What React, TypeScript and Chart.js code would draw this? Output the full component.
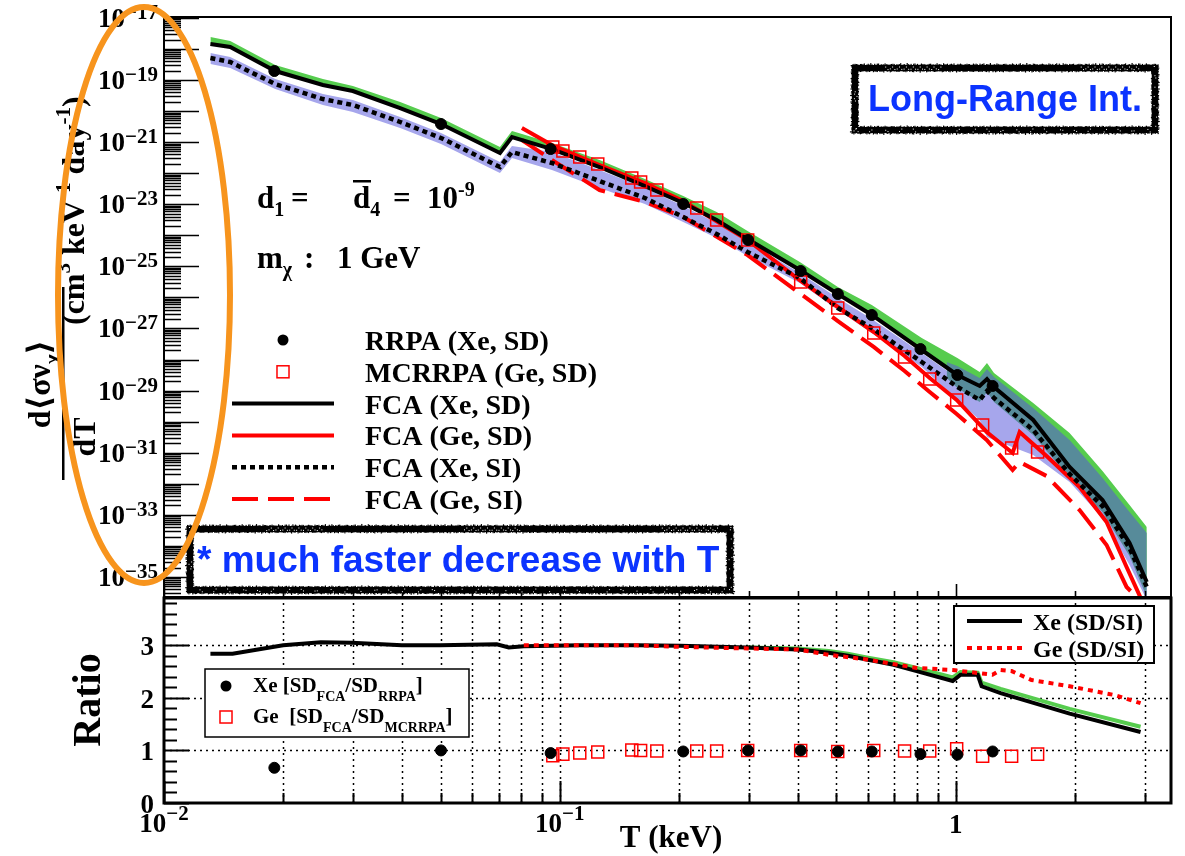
import React, { useEffect, useRef } from "react";
import { Chart, registerables } from "chart.js";

Chart.register(...registerables);

const W = 1185;
const H = 856;

// ---------------- top panel data ----------------
const xeT = [0.0131, 0.0147, 0.0191, 0.0252, 0.03, 0.0395, 0.0501, 0.0706, 0.0757, 0.0955, 0.126, 0.164, 0.205, 0.249, 0.298, 0.404, 0.504, 0.614, 0.821, 1.01, 1.15, 1.2, 1.25, 1.57, 1.94, 2.35, 2.75, 3.04];
const xeSD = [1.44e-18, 1.155e-18, 1.95e-19, 6.9e-20, 4.43e-20, 1.254e-20, 3.83e-21, 4.47e-22, 1.46e-21, 6.0e-22, 1.58e-22, 3.86e-23, 1.1e-23, 3.11e-24, 7.6e-25, 7.64e-26, 1.29e-26, 2.72e-27, 2.03e-28, 3.18e-29, 1.41e-29, 2.36e-29, 1.31e-29, 1.13e-30, 3.47e-32, 3.01e-33, 1.24e-34, 6.89e-36];
const xeSI = [5.1e-19, 3.8e-19, 7.43e-20, 2.44e-20, 1.57e-20, 4.45e-21, 1.36e-21, 1.58e-22, 4.81e-22, 2.13e-22, 5.6e-23, 1.59e-23, 3.88e-24, 1.1e-24, 2.9e-25, 4.22e-26, 4.56e-27, 1.035e-27, 8.34e-29, 1.31e-29, 4.98e-30, 9.7e-30, 5.78e-30, 5.4e-31, 2.07e-32, 1.92e-33, 8.55e-35, 4.75e-36];
const greenTop = [2.42e-18, 1.8e-18, 3.04e-19, 1.077e-19, 6.41e-20, 1.96e-20, 5.98e-21, 6.97e-22, 2.28e-21, 9.37e-22, 2.65e-22, 6.5e-23, 1.84e-23, 5.62e-24, 1.375e-24, 1.38e-25, 2.16e-26, 5.7e-27, 4.93e-28, 1.12e-28, 3.97e-29, 7.74e-29, 3.69e-29, 3.99e-30, 4.32e-31, 2.58e-32, 2.07e-33, 4.06e-34];
const lavTop = [7.39e-19, 5.5e-19, 1.077e-19, 3.54e-20, 2.27e-20, 6.44e-21, 1.97e-21, 2.29e-22, 7.5e-22, 4.81e-22, 1.265e-22, 3.33e-23, 8.77e-24, 2.49e-24, 6.08e-25, 6.11e-26, 9.57e-27, 2.02e-27, 1.63e-28, 2.55e-29, 1.045e-29, 1.76e-29, 1.045e-29, 9.06e-31, 2.78e-32, 2.4e-33, 9.93e-35, 5.51e-36];
const lavBottom = [3.27e-19, 2.43e-19, 5.13e-20, 1.57e-20, 9.33e-21, 2.85e-21, 8.7e-22, 1.014e-22, 3.08e-22, 1.265e-22, 3.33e-23, 1.02e-23, 2.68e-24, 8.18e-25, 2.16e-25, 2.91e-26, 3.94e-27, 7.15e-28, 5.75e-29, 4.98e-30, 1.13e-30, 3.21e-31, 2.57e-31, 8.45e-32, 1.14e-32, 7.91e-34, 2.43e-35, 1.81e-36];
const tealT = [0.949, 1.01, 1.15, 1.2, 1.25, 1.57, 1.94, 2.35, 2.75, 3.04];
const tealTop = [8.34e-29, 6.19e-29, 2.55e-29, 4.97e-29, 2.74e-29, 2.75e-30, 2.57e-31, 1.53e-32, 1.23e-33, 2.6e-34];
const tealBottom = [2.55e-29, 1.21e-29, 4.3e-30, 9.02e-30, 4.3e-30, 3.72e-31, 1.53e-32, 1.23e-33, 4.73e-35, 2.26e-36];

const geT = [0.0802, 0.0955, 0.126, 0.164, 0.205, 0.298, 0.406, 0.504, 0.621, 0.743, 0.86, 1.006, 1.198, 1.393, 1.451, 1.697, 2.056, 2.406, 2.703, 2.95];
const geSD = [2.85e-21, 8.08e-22, 1.83e-22, 4.83e-23, 1.27e-23, 7.06e-25, 3.38e-26, 4.92e-27, 7.71e-28, 1.3e-28, 2.55e-29, 4.98e-30, 4.65e-31, 9.79e-32, 4.65e-31, 7.84e-32, 7.87e-33, 5.87e-34, 2.09e-35, 1.81e-36];
const geSIT = [0.0802, 0.0955, 0.126, 0.164, 0.205, 0.298, 0.406, 0.504, 0.621, 0.743, 0.86, 1.006, 1.198, 1.393, 1.451, 1.697, 2.056, 2.406, 2.703, 3.0];
const geSI = [1.17e-21, 2.65e-22, 2.87e-23, 1.18e-23, 3.88e-24, 2.32e-25, 1.29e-26, 1.74e-27, 2.54e-28, 4.28e-29, 9.02e-30, 1.77e-30, 2.57e-31, 2.78e-32, 5.02e-32, 1.78e-32, 1.43e-33, 1.07e-34, 4.75e-36, 1.25e-36];

const rrpaT = [0.019, 0.0501, 0.0948, 0.205, 0.299, 0.406, 0.504, 0.614, 0.815, 1.01, 1.24];
const rrpaV = [1.95e-19, 3.83e-21, 6.0e-22, 1.02e-23, 7.06e-25, 7.1e-26, 1.29e-26, 2.72e-27, 2.18e-28, 3.18e-29, 1.41e-29];
const mcrrpaT = [0.096, 0.1018, 0.1123, 0.1247, 0.152, 0.16, 0.1758, 0.2218, 0.249, 0.2983, 0.406, 0.5036, 0.621, 0.743, 0.86, 1.006, 1.17, 1.385, 1.611];
const mcrrpaV = [6.97e-22, 5.18e-22, 3.32e-22, 1.98e-22, 7.0e-23, 5.2e-23, 2.87e-23, 7.57e-24, 3.11e-24, 7.06e-25, 3.13e-26, 4.56e-27, 7.15e-28, 1.21e-28, 2.36e-29, 4.98e-30, 7.8e-31, 1.42e-31, 1.05e-31];

// ---------------- ratio panel data ----------------
const ratioXeT = [0.0131, 0.0149, 0.02, 0.0249, 0.0298, 0.0399, 0.0498, 0.0693, 0.0743, 0.0811, 0.1123, 0.1564, 0.201, 0.298, 0.399, 0.478, 0.534, 0.596, 0.697, 0.797, 0.983, 1.029, 1.137, 1.163, 1.299, 1.941, 2.932];
const ratioXe = [2.84, 2.84, 3.0, 3.06, 3.05, 3.0, 3.0, 3.02, 2.96, 2.98, 3.0, 3.0, 2.99, 2.96, 2.92, 2.86, 2.8, 2.73, 2.63, 2.51, 2.32, 2.44, 2.44, 2.22, 2.09, 1.7, 1.35];
const ratioXeGreenT = [0.298, 0.399, 0.478, 0.534, 0.596, 0.697, 0.797, 0.983, 1.029, 1.137, 1.163, 1.299, 1.941, 2.932];
const ratioXeGreen = [2.96, 2.94, 2.89, 2.84, 2.77, 2.68, 2.57, 2.39, 2.49, 2.48, 2.29, 2.17, 1.79, 1.45];
const ratioGeT = [0.0811, 0.1123, 0.1564, 0.201, 0.298, 0.399, 0.478, 0.596, 0.797, 0.983, 1.239, 1.299, 1.385, 1.555, 1.941, 2.535, 2.932];
const ratioGe = [3.0, 3.0, 3.0, 2.97, 2.94, 2.92, 2.82, 2.73, 2.57, 2.53, 2.44, 2.53, 2.51, 2.34, 2.22, 2.05, 1.9];
const xeDotRatio = [0.67, 1.0, 0.95, 0.98, 1.0, 1.0, 0.98, 0.98, 0.93, 0.92, 0.98];
const geSqRatio = [0.9, 0.93, 0.95, 0.97, 1.01, 1.0, 0.99, 0.99, 0.99, 1.0, 1.0, 0.98, 1.0, 0.99, 0.99, 1.03, 0.89, 0.89, 0.93];

// ---------------- axes / labels ----------------
const X_MIN = 0.01;
const X_MAX = 3.5;
const Y_MIN = 2.26e-36;
const Y_MAX = 1.07e-17;
const R_MIN = 0;
const R_MAX = 3.9;
const yLabelExps = [-17, -19, -21, -23, -25, -27, -29, -31, -33, -35];
const xLabelExps = [-2, -1, 0];
const ratioLabels = [0, 1, 2, 3];
const ratioGridY = [1, 2, 3];
const topLegendLabels = ["RRPA (Xe, SD)", "MCRRPA (Ge, SD)", "FCA (Xe, SD)", "FCA (Ge, SD)", "FCA (Xe, SI)", "FCA (Ge, SI)"];
const ratioLegendLabels = ["Xe (SD/SI)", "Ge (SD/SI)"];

// ---------------- styles ----------------
const SERIF = "'Liberation Serif','Times New Roman','DejaVu Serif','DejaVu Sans',serif";
const SANS = "'Liberation Sans',Arial,'DejaVu Sans',sans-serif";
const RED = "#ff0000";
const BLUE_TXT = "#0b33ff";
const GREEN = "#56cc4e";
const LAV = "#a6a6ec";
const TEAL = "#578b9a";
const ORANGE = "#f7941d";

const pts = (xs: number[], ys: number[]) => xs.map((x, i) => ({ x, y: ys[i] }));

type Run = { t: string; size: number; dy?: number; font?: string; italic?: boolean; color?: string };
const fontOf = (r: Run) => `${r.italic ? "italic " : ""}bold ${r.size}px ${r.font || SERIF}`;
function runsWidth(ctx: CanvasRenderingContext2D, runs: Run[]) {
  let w = 0;
  for (const r of runs) {
    ctx.font = fontOf(r);
    w += ctx.measureText(r.t).width;
  }
  return w;
}
function drawRuns(ctx: CanvasRenderingContext2D, runs: Run[], x: number, y: number, align: string = "left") {
  const w = runsWidth(ctx, runs);
  let cx = align === "left" ? x : align === "center" ? x - w / 2 : x - w;
  ctx.textAlign = "left";
  ctx.textBaseline = "alphabetic";
  for (const r of runs) {
    ctx.font = fontOf(r);
    if (r.color) ctx.fillStyle = r.color;
    ctx.fillText(r.t, cx, y + (r.dy || 0));
    cx += ctx.measureText(r.t).width;
  }
  return w;
}

function roughBox(ctx: CanvasRenderingContext2D, x0: number, y0: number, x1: number, y1: number, t: number) {
  ctx.save();
  ctx.fillStyle = "#fff";
  ctx.fillRect(x0, y0, x1 - x0, y1 - y0);
  ctx.fillStyle = "#000";
  ctx.fillRect(x0, y0, x1 - x0, t);
  ctx.fillRect(x0, y1 - t, x1 - x0, t);
  ctx.fillRect(x0, y0, t, y1 - y0);
  ctx.fillRect(x1 - t, y0, t, y1 - y0);
  const jag = (s: number) => 0.8 + 0.9 * Math.sin(s * 1.37) * Math.cos(s * 0.53) + 0.4 * Math.sin(s * 3.1);
  for (let x = x0; x < x1; x += 1.3) {
    const a = Math.max(0, jag(x));
    const b = Math.max(0, jag(x + 17.3));
    ctx.fillRect(x, y0 - a, 1.2, a);
    ctx.fillRect(x, y0 + t, 1.2, b * 0.8);
    ctx.fillRect(x, y1, 1.2, b);
    ctx.fillRect(x, y1 - t - a * 0.8, 1.2, a * 0.8);
  }
  for (let y = y0; y < y1; y += 1.3) {
    const a = Math.max(0, jag(y + 5.1));
    const b = Math.max(0, jag(y + 31.7));
    ctx.fillRect(x0 - a, y, a, 1.2);
    ctx.fillRect(x0 + t, y, b * 0.8, 1.2);
    ctx.fillRect(x1, y, b, 1.2);
    ctx.fillRect(x1 - t - a * 0.8, y, a * 0.8, 1.2);
  }
  ctx.fillStyle = "#fff";
  for (let x = x0 + 1; x < x1 - 1; x += 2.3) {
    if (Math.sin(x * 2.7) > 0.6) ctx.fillRect(x, y0 + t * 0.5 + Math.sin(x * 0.9) * 1.5, 1, 1);
    if (Math.cos(x * 2.3) > 0.6) ctx.fillRect(x, y1 - t * 0.5 + Math.sin(x * 1.1) * 1.5, 1, 1);
  }
  for (let y = y0 + 1; y < y1 - 1; y += 2.3) {
    if (Math.sin(y * 2.9) > 0.6) ctx.fillRect(x0 + t * 0.5 + Math.sin(y) * 1.5, y, 1, 1);
    if (Math.cos(y * 2.1) > 0.6) ctx.fillRect(x1 - t * 0.5 + Math.sin(y * 1.3) * 1.5, y, 1, 1);
  }
  ctx.restore();
}

function logTicks(min: number, max: number) {
  const out: { v: number; major: boolean }[] = [];
  const n0 = Math.floor(Math.log10(min)) - 1;
  const n1 = Math.ceil(Math.log10(max)) + 1;
  for (let n = n0; n <= n1; n++) {
    for (let k = 1; k <= 9; k++) {
      const v = k * Math.pow(10, n);
      if (v >= min * 0.9999 && v <= max * 1.0001) out.push({ v, major: k === 1 });
    }
  }
  return out;
}

function drawLegendSymbol(ctx: CanvasRenderingContext2D, ds: any, x0: number, x1: number, y: number) {
  ctx.save();
  if (ds.showLine === false) {
    const cx = (x0 + x1) / 2;
    if (ds.pointStyle === "rect") {
      const s = ds.pointRadius * Math.SQRT1_2;
      ctx.strokeStyle = ds.pointBorderColor;
      ctx.lineWidth = ds.pointBorderWidth;
      ctx.strokeRect(cx - s, y - s, 2 * s, 2 * s);
    } else {
      ctx.fillStyle = ds.pointBackgroundColor;
      ctx.beginPath();
      ctx.arc(cx, y, ds.pointRadius, 0, Math.PI * 2);
      ctx.fill();
    }
  } else {
    ctx.strokeStyle = ds.borderColor;
    ctx.lineWidth = ds.borderWidth;
    ctx.setLineDash(ds.borderDash || []);
    ctx.beginPath();
    ctx.moveTo(x0, y);
    ctx.lineTo(x1, y);
    ctx.stroke();
  }
  ctx.restore();
}

const topDeco = {
  id: "topDeco",
  afterDatasetsDraw(chart: any) {
    const ctx: CanvasRenderingContext2D = chart.ctx;
    const { left, right, top, bottom } = chart.chartArea;
    const xs = chart.scales.x;
    const ys = chart.scales.y;
    ctx.save();
    ctx.strokeStyle = "#000";
    ctx.lineWidth = 2;
    ctx.strokeRect(left, top, right - left, bottom - top);
    // y ticks (inside, left)
    ctx.lineWidth = 1.6;
    ctx.beginPath();
    for (const t of logTicks(Y_MIN, Y_MAX)) {
      const p = Math.round(ys.getPixelForValue(t.v)) + 0.5;
      ctx.moveTo(left, p);
      ctx.lineTo(left + (t.major ? 35 : 17), p);
    }
    ctx.stroke();
    // x ticks (inside, bottom)
    ctx.beginPath();
    for (const t of logTicks(X_MIN, X_MAX)) {
      const p = Math.round(xs.getPixelForValue(t.v)) + 0.5;
      ctx.moveTo(p, bottom);
      ctx.lineTo(p, bottom - (t.major ? 13 : 6));
    }
    ctx.stroke();
    // y labels
    ctx.fillStyle = "#000";
    for (const e of yLabelExps) {
      const p = ys.getPixelForValue(Math.pow(10, e));
      drawRuns(ctx, [{ t: "10", size: 27 }, { t: "\u2212" + Math.abs(e), size: 21, dy: -8 }], 158, p + 9, "right");
    }
    // y title (rotated)
    ctx.save();
    ctx.rotate(-Math.PI / 2);
    drawRuns(ctx, [{ t: "d\u27E8\u03C3\u03BD", size: 32 }, { t: "\u03C7", size: 21, dy: 9 }, { t: "\u27E9", size: 32 }], -384, 50, "center");
    ctx.fillRect(-480, 62, 193, 2.5);
    drawRuns(ctx, [{ t: "dT", size: 32 }], -437, 95, "center");
    drawRuns(ctx, [
      { t: "(cm", size: 32 }, { t: "3", size: 21, dy: -14 }, { t: " keV", size: 32 }, { t: "-1", size: 21, dy: -14 },
      { t: " day", size: 32 }, { t: "-1", size: 21, dy: -14 }, { t: ")", size: 32 },
    ], -325, 84, "left");
    ctx.restore();
    // parameter text
    ctx.fillStyle = "#000";
    drawRuns(ctx, [{ t: "d", size: 31 }, { t: "1", size: 20, dy: 8 }], 257, 208);
    drawRuns(ctx, [{ t: "=", size: 31 }], 291, 208);
    drawRuns(ctx, [{ t: "d", size: 31 }, { t: "4", size: 20, dy: 8 }], 353, 208);
    drawRuns(ctx, [{ t: "=", size: 31 }], 393, 208);
    ctx.fillRect(353, 180, 18, 2.5);
    drawRuns(ctx, [{ t: "10", size: 31 }, { t: "-9", size: 20, dy: -12 }], 427, 208);
    drawRuns(ctx, [{ t: "m", size: 31 }, { t: "\u03C7", size: 20, dy: 8 }], 257, 268);
    drawRuns(ctx, [{ t: ":", size: 31 }], 304, 268);
    drawRuns(ctx, [{ t: "1 GeV", size: 31 }], 337, 268);
    // main legend
    const dsets = chart.data.datasets;
    for (let i = 0; i < 6; i++) {
      const y = 340 + i * 31.8;
      drawLegendSymbol(ctx, dsets[i], 232, 334, y);
      ctx.fillStyle = "#000";
      drawRuns(ctx, [{ t: dsets[i].label, size: 28 }], 365, y + 10);
    }
    // boxes
    roughBox(ctx, 852, 65, 1158, 133, 6);
    ctx.fillStyle = BLUE_TXT;
    drawRuns(ctx, [{ t: "Long-Range Int.", size: 36, font: SANS }], 1005, 111, "center");
    roughBox(ctx, 187, 526, 733, 593, 6);
    ctx.fillStyle = BLUE_TXT;
    drawRuns(ctx, [{ t: "* much faster decrease with T", size: 37, font: SANS }], 197, 572);
    // orange ellipse annotation
    ctx.strokeStyle = ORANGE;
    ctx.lineWidth = 6;
    ctx.beginPath();
    ctx.ellipse(144, 295, 86, 288, 0, 0, Math.PI * 2);
    ctx.stroke();
    ctx.restore();
  },
};

const botGrid = {
  id: "botGrid",
  beforeDatasetsDraw(chart: any) {
    const ctx: CanvasRenderingContext2D = chart.ctx;
    const { left, right, top, bottom } = chart.chartArea;
    const xs = chart.scales.x;
    const ys = chart.scales.y;
    ctx.save();
    ctx.strokeStyle = "#000";
    ctx.lineWidth = 1.5;
    ctx.setLineDash([2, 4]);
    ctx.beginPath();
    for (const t of logTicks(X_MIN, X_MAX)) {
      const p = Math.round(xs.getPixelForValue(t.v)) + 0.5;
      if (p <= left + 1 || p >= right - 1) continue;
      ctx.moveTo(p, bottom);
      ctx.lineTo(p, top);
    }
    for (const g of ratioGridY) {
      const p = Math.round(ys.getPixelForValue(g)) + 0.5;
      ctx.moveTo(left, p);
      ctx.lineTo(right, p);
    }
    ctx.stroke();
    ctx.restore();
  },
  afterDatasetsDraw(chart: any) {
    const ctx: CanvasRenderingContext2D = chart.ctx;
    const { left, right, top, bottom } = chart.chartArea;
    const xs = chart.scales.x;
    const ys = chart.scales.y;
    ctx.save();
    ctx.strokeStyle = "#000";
    ctx.lineWidth = 3;
    ctx.strokeRect(left, top, right - left, bottom - top);
    ctx.lineWidth = 2;
    ctx.beginPath();
    for (let v = 0; v <= R_MAX + 1e-9; v += 0.2) {
      const p = Math.round(ys.getPixelForValue(v)) + 0.5;
      const major = Math.abs(v - Math.round(v)) < 1e-6;
      ctx.moveTo(left, p);
      ctx.lineTo(left + (major ? 25 : 13), p);
    }
    for (const t of logTicks(X_MIN, X_MAX)) {
      const p = Math.round(xs.getPixelForValue(t.v)) + 0.5;
      ctx.moveTo(p, bottom);
      ctx.lineTo(p, bottom - (t.major ? 22 : 10));
    }
    ctx.stroke();
    // tick labels
    ctx.fillStyle = "#000";
    for (const r of ratioLabels) {
      const p = ys.getPixelForValue(r);
      drawRuns(ctx, [{ t: String(r), size: 27 }], 154, p + 10, "right");
    }
    for (const e of xLabelExps) {
      const p = xs.getPixelForValue(Math.pow(10, e));
      if (e === 0) drawRuns(ctx, [{ t: "1", size: 27 }], p, 833, "center");
      else drawRuns(ctx, [{ t: "10", size: 27 }, { t: "\u2212" + Math.abs(e), size: 21, dy: -12 }], p, 832, "center");
    }
    drawRuns(ctx, [{ t: "T (keV)", size: 31 }], 671, 847, "center");
    ctx.save();
    ctx.rotate(-Math.PI / 2);
    drawRuns(ctx, [{ t: "Ratio", size: 40 }], -700, 100, "center");
    ctx.restore();
    // legend 1 (bottom-left)
    const dsets = chart.data.datasets;
    ctx.fillStyle = "#fff";
    ctx.fillRect(205, 669, 264, 68);
    ctx.strokeStyle = "#000";
    ctx.lineWidth = 1.5;
    ctx.strokeRect(205, 669, 264, 68);
    drawLegendSymbol(ctx, dsets[0], 216, 236, 686);
    drawLegendSymbol(ctx, dsets[1], 216, 236, 717);
    ctx.fillStyle = "#000";
    drawRuns(ctx, [{ t: "Xe [SD", size: 21 }, { t: "FCA", size: 14, dy: 9 }, { t: "/SD", size: 21 }, { t: "RRPA", size: 14, dy: 9 }, { t: "]", size: 21 }], 253, 692);
    drawRuns(ctx, [{ t: "Ge  [SD", size: 21 }, { t: "FCA", size: 14, dy: 9 }, { t: "/SD", size: 21 }, { t: "MCRRPA", size: 14, dy: 9 }, { t: "]", size: 21 }], 253, 723);
    // legend 2 (top-right)
    ctx.fillStyle = "#fff";
    ctx.fillRect(954, 606, 200, 57);
    ctx.strokeStyle = "#000";
    ctx.lineWidth = 2;
    ctx.strokeRect(954, 606, 200, 57);
    drawLegendSymbol(ctx, dsets[2], 967, 1022, 621);
    drawLegendSymbol(ctx, dsets[4], 967, 1022, 648);
    ctx.fillStyle = "#000";
    drawRuns(ctx, [{ t: ratioLegendLabels[0], size: 24 }], 1033, 630);
    drawRuns(ctx, [{ t: ratioLegendLabels[1], size: 24 }], 1033, 657);
    ctx.restore();
  },
};

function lineDs(label: string, xs: number[], ys: number[], color: string, width: number, dash: number[], order: number) {
  return { label, data: pts(xs, ys), borderColor: color, backgroundColor: color, borderWidth: width, borderDash: dash, pointRadius: 0, fill: false, order, tension: 0 };
}
function boundDs(xs: number[], ys: number[], order: number, fill: any = false, bg: string = "rgba(0,0,0,0)") {
  return { label: "", data: pts(xs, ys), borderColor: "rgba(0,0,0,0)", borderWidth: 0, pointRadius: 0, fill, backgroundColor: bg, order, tension: 0 };
}

function baseOptions(padTop: number, xHeight: number, yMin: number, yMax: number, yType: string) {
  return {
    animation: false,
    responsive: false,
    events: [],
    layout: { padding: { top: padTop, right: 14, left: 0, bottom: 0 } },
    plugins: { legend: { display: false }, tooltip: { enabled: false }, title: { display: false } },
    scales: {
      x: {
        type: "logarithmic", min: X_MIN, max: X_MAX,
        ticks: { display: false }, grid: { display: false }, border: { display: false },
        afterFit: (s: any) => { s.height = xHeight; },
      },
      y: {
        type: yType, min: yMin, max: yMax,
        ticks: { display: false }, grid: { display: false }, border: { display: false },
        afterFit: (s: any) => { s.width = 164; },
      },
    },
  };
}

function topConfig(): any {
  return {
    type: "line",
    data: {
      datasets: [
        { label: topLegendLabels[0], data: pts(rrpaT, rrpaV), showLine: false, pointRadius: 5.5, pointBackgroundColor: "#000", pointBorderColor: "#000", pointBorderWidth: 1, order: 0 },
        { label: topLegendLabels[1], data: pts(mcrrpaT, mcrrpaV), showLine: false, pointStyle: "rect", pointRadius: 8.5, pointBackgroundColor: "rgba(0,0,0,0)", pointBorderColor: RED, pointBorderWidth: 1.5, order: 1 },
        lineDs(topLegendLabels[2], xeT, xeSD, "#000", 4, [], 2),
        lineDs(topLegendLabels[3], geT, geSD, RED, 4, [], 4),
        lineDs(topLegendLabels[4], xeT, xeSI, "#000", 4.5, [5, 4], 3),
        lineDs(topLegendLabels[5], geSIT, geSI, RED, 4, [26, 10], 5),
        boundDs(tealT, tealTop, 10, { target: 7 }, TEAL),
        boundDs(tealT, tealBottom, 11),
        boundDs(xeT, greenTop, 12, { target: 2 }, GREEN),
        boundDs(xeT, lavTop, 14, { target: 10 }, LAV),
        boundDs(xeT, lavBottom, 15),
      ],
    },
    options: baseOptions(17, H - 597, Y_MIN, Y_MAX, "logarithmic"),
    plugins: [topDeco],
  };
}

function botConfig(): any {
  return {
    type: "line",
    data: {
      datasets: [
        { label: "Xe [SD_FCA/SD_RRPA]", data: pts(rrpaT, xeDotRatio), showLine: false, pointRadius: 5.5, pointBackgroundColor: "#000", pointBorderColor: "#000", pointBorderWidth: 1, order: 0 },
        { label: "Ge [SD_FCA/SD_MCRRPA]", data: pts(mcrrpaT, geSqRatio), showLine: false, pointStyle: "rect", pointRadius: 8.5, pointBackgroundColor: "rgba(0,0,0,0)", pointBorderColor: RED, pointBorderWidth: 1.5, order: 1 },
        lineDs(ratioLegendLabels[0], ratioXeT, ratioXe, "#000", 4, [], 3),
        lineDs("", ratioXeGreenT, ratioXeGreen, GREEN, 4, [], 4),
        lineDs(ratioLegendLabels[1], ratioGeT, ratioGe, RED, 4, [5, 5], 2),
      ],
    },
    options: baseOptions(598, H - 803, R_MIN, R_MAX, "linear"),
    plugins: [botGrid],
  };
}

export default function App() {
  const topRef = useRef<HTMLCanvasElement>(null);
  const botRef = useRef<HTMLCanvasElement>(null);
  useEffect(() => {
    const c1 = new Chart(topRef.current as HTMLCanvasElement, topConfig());
    const c2 = new Chart(botRef.current as HTMLCanvasElement, botConfig());
    return () => {
      c1.destroy();
      c2.destroy();
    };
  }, []);
  return (
    <div style={{ position: "fixed", left: 0, top: 0, width: W, height: H, background: "#fff", overflow: "hidden" }}>
      <canvas ref={topRef} width={W} height={H} style={{ position: "absolute", left: 0, top: 0 }} />
      <canvas ref={botRef} width={W} height={H} style={{ position: "absolute", left: 0, top: 0 }} />
    </div>
  );
}
